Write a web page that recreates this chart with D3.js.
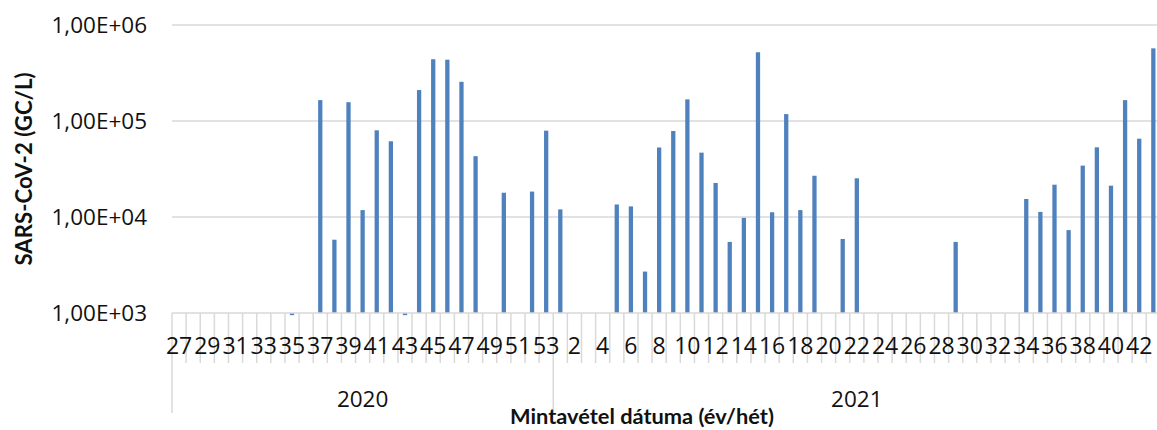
<!DOCTYPE html>
<html>
<head>
<meta charset="utf-8">
<script src="https://cdn.jsdelivr.net/npm/d3@7"></script>
<style>
  html, body { margin: 0; padding: 0; background: #fff; }
  svg { display: block; }
  text { font-family: "Open Sans", Lato, sans-serif; fill: #111; }
  text.title { font-family: Lato, "Open Sans", sans-serif; font-weight: bold; }
</style>
</head>
<body>
<svg id="chart" width="1157" height="430"></svg>
<script>
// Sampling weeks, grouped by year
const years = ["2020", "2021"];
const weeks2020 = [27, 28, 29, 30, 31, 32, 33, 34, 35, 36, 37, 38, 39, 40, 41, 42, 43, 44, 45, 46, 47, 48, 49, 50, 51, 52, 53];
const weeks2021 = [1, 2, 3, 4, 5, 6, 7, 8, 9, 10, 11, 12, 13, 14, 15, 16, 17, 18, 19, 20, 21, 22, 23, 24, 25, 26, 27, 28, 29, 30, 31, 32, 33, 34, 35, 36, 37, 38, 39, 40, 41, 42, 43];

// SARS-CoV-2 concentration (GC/L); null = no sample
const values2020 = [null, null, null, null, null, null, null, null, 950, null,
  165000, 5800, 157000, 11800, 80000, 61500, 950, 210000, 440000, 435000,
  256000, 43000, null, 17900, null, 18400, 79300];
const values2021 = [12000, null, null, null, 13500, 12900, 2700, 53000, 78700, 168000,
  46800, 22600, 5500, 9800, 520000, 11200, 118000, 11800, 26900, null,
  5900, 25300, null, null, null, null, null, null, 5500, null,
  null, null, null, 15400, 11300, 21700, 7300, 34300, 53200, 21200,
  165000, 65400, 571000];

const yTicks = [1e3, 1e4, 1e5, 1e6];
const yTickLabels = ["1,00E+03", "1,00E+04", "1,00E+05", "1,00E+06"];

const yTitle = "SARS-CoV-2 (GC/L)";
const xTitle = "Mintavétel dátuma (év/hét)";

// Flat category list
const cats = [
  ...weeks2020.map((w, i) => ({ year: "2020", week: w, value: values2020[i] })),
  ...weeks2021.map((w, i) => ({ year: "2021", week: w, value: values2021[i] }))
];
cats.forEach((c, i) => c.idx = i);

const svg = d3.select("#chart");
const plotLeft = 172, catStep = 14.12, plotTop = 25, plotBottom = 313;
const plotRight = plotLeft + catStep * cats.length;

const x = d3.scaleBand()
  .domain(cats.map(c => c.idx))
  .range([plotLeft, plotRight])
  .paddingInner(0.697)
  .paddingOuter(0.3485);

const y = d3.scaleLog().domain([1e3, 1e6]).range([plotBottom, plotTop]);

const grey = "#d9d9d9";

// Horizontal gridlines
svg.append("g").selectAll("line")
  .data(yTicks.slice(1))
  .join("line")
  .attr("x1", plotLeft).attr("x2", plotRight)
  .attr("y1", d => y(d)).attr("y2", d => y(d))
  .attr("stroke", grey).attr("stroke-width", 1.5);

// Y tick labels
svg.append("g").selectAll("text")
  .data(yTicks)
  .join("text")
  .attr("x", 147)
  .attr("y", d => y(d) + 8)
  .attr("text-anchor", "end")
  .style("font-size", "22.5px")
  .text((d, i) => yTickLabels[i]);

// Bars (values below the axis minimum hang under the baseline)
svg.append("g").selectAll("rect")
  .data(cats.filter(c => c.value != null))
  .join("rect")
  .attr("x", d => x(d.idx))
  .attr("width", x.bandwidth())
  .attr("y", d => Math.min(y(d.value), y(1e3)))
  .attr("height", d => Math.abs(y(1e3) - y(d.value)))
  .attr("fill", "#4f81bd");

// Category axis line
svg.append("line")
  .attr("x1", plotLeft).attr("x2", plotRight)
  .attr("y1", plotBottom).attr("y2", plotBottom)
  .attr("stroke", grey).attr("stroke-width", 1.5);

// Category boundary ticks; year boundaries run down past the year labels
const boundaries = d3.range(cats.length + 1);
const yearStarts = new Set([0, weeks2020.length, cats.length]);
svg.append("g").selectAll("line")
  .data(boundaries)
  .join("line")
  .attr("x1", k => plotLeft + k * x.step())
  .attr("x2", k => plotLeft + k * x.step())
  .attr("y1", plotBottom)
  .attr("y2", k => yearStarts.has(k) ? 413 : 363)
  .attr("stroke", grey).attr("stroke-width", 1.5);

// Week labels, every other category
svg.append("g").selectAll("text")
  .data(cats.filter(c => c.idx % 2 === 0))
  .join("text")
  .attr("x", d => x(d.idx) + x.bandwidth() / 2)
  .attr("y", 354)
  .attr("text-anchor", "middle")
  .style("font-size", "23px")
  .text(d => d.week);

// Year labels centred under their weeks
years.forEach(yr => {
  const group = cats.filter(c => c.year === yr);
  const x0 = plotLeft + group[0].idx * x.step();
  const x1 = plotLeft + (group[group.length - 1].idx + 1) * x.step();
  svg.append("text")
    .attr("x", (x0 + x1) / 2)
    .attr("y", 407)
    .attr("text-anchor", "middle")
    .style("font-size", "22.5px")
    .text(yr);
});

// Axis titles
svg.append("text")
  .attr("class", "title")
  .attr("x", 642)
  .attr("y", 424)
  .attr("text-anchor", "middle")
  .style("font-size", "21.8px")
  .text(xTitle);

svg.append("text")
  .attr("class", "title")
  .attr("transform", `translate(32, ${(plotTop + plotBottom) / 2}) rotate(-90)`)
  .attr("text-anchor", "middle")
  .style("font-size", "22.2px")
  .text(yTitle);
</script>
</body>
</html>
